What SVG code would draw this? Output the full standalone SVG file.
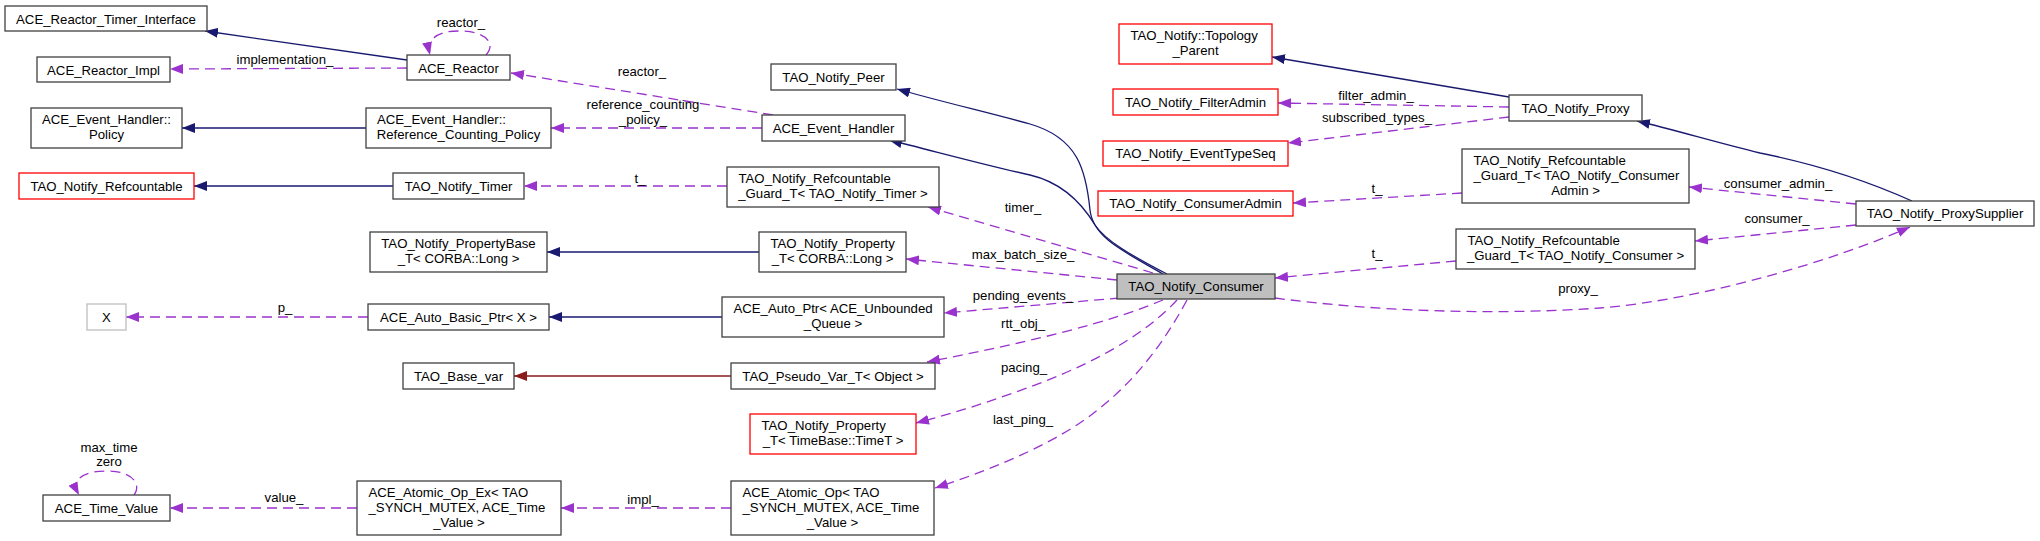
<svg xmlns="http://www.w3.org/2000/svg" width="2040" height="541" viewBox="0 0 2040 541">
<style>
text{font-family:"Liberation Sans",Arial,sans-serif;font-size:13.2px;fill:#000}
.c{text-anchor:middle}
.s{text-anchor:start}
.n rect{fill:#fff;stroke:#404040;stroke-width:1.3}
.n.red rect{stroke:#ff0000}
.n.gry rect{stroke:#bfbfbf}
.n.cur rect{fill:#bfbfbf}
.inh{fill:none;stroke:#191970;stroke-width:1.3;marker-end:url(#aB)}
.tpl{fill:none;stroke:#8b1a1a;stroke-width:1.3;marker-end:url(#aR)}
.use{fill:none;stroke:#9a32cd;stroke-width:1.3;stroke-dasharray:10,6;marker-end:url(#aP)}
</style>
<defs>
<marker id="aB" markerUnits="userSpaceOnUse" markerWidth="13" markerHeight="10" viewBox="0 0 13 10" refX="13" refY="5" orient="auto"><path d="M0,0 L13,5 L0,10 z" fill="#191970"/></marker>
<marker id="aR" markerUnits="userSpaceOnUse" markerWidth="13" markerHeight="10" viewBox="0 0 13 10" refX="13" refY="5" orient="auto"><path d="M0,0 L13,5 L0,10 z" fill="#8b1a1a"/></marker>
<marker id="aP" markerUnits="userSpaceOnUse" markerWidth="13" markerHeight="10" viewBox="0 0 13 10" refX="13" refY="5" orient="auto"><path d="M0,0 L13,5 L0,10 z" fill="#9a32cd"/></marker>
</defs>
<rect width="2040" height="541" fill="#fff"/>

<g id="connectors">
<path class="inh" d="M407,60 L205,31"/>
<path class="inh" d="M366,128 L182,128"/>
<path class="inh" d="M393,186 L194,186"/>
<path class="inh" d="M759,252 L547,252"/>
<path class="inh" d="M722,317 L549,317"/>
<path class="inh" d="M1163,274 C1125,252 1093,238 1090,210 C1086,170 1078,138 1030,124 C990,113 935,100 897,89"/>
<path class="inh" d="M1167,274 C1130,255 1105,240 1095,225 C1080,200 1060,182 1030,175 C985,165 930,150 889,140"/>
<path class="inh" d="M1912,201 C1870,182 1820,165 1760,153 C1715,142 1675,130 1637,121"/>
<path class="inh" d="M1509,97 L1272,57"/>
<path class="tpl" d="M731,376 L514,376"/>

<path class="use" d="M407,68 L170,69"/>
<path class="use" d="M486,55 C497,43 485,31 459,31 C438,31 426,38 430,55"/>
<path class="use" d="M773,115 L511,73"/>
<path class="use" d="M762,128 L551,128"/>
<path class="use" d="M727,186 L524,186"/>
<path class="use" d="M368,317 L126,317"/>
<path class="use" d="M357,508 L170,508"/>
<path class="use" d="M134,495 C142,484 132,471 107,471 C85,471 70,478 79,495"/>
<path class="use" d="M731,508 L561,508"/>
<path class="use" d="M1153,273 L928,207"/>
<path class="use" d="M1117,280 L906,259"/>
<path class="use" d="M1120,298 L944,313"/>
<path class="use" d="M1163,300 C1110,322 1040,340 927,362"/>
<path class="use" d="M1177,300 C1140,340 1080,370 1013,393 C980,405 950,414 916,423"/>
<path class="use" d="M1187,300 C1160,350 1130,385 1095,412 C1060,440 1000,467 935,488"/>
<path class="use" d="M1509,107 L1278,103"/>
<path class="use" d="M1509,117 L1288,143"/>
<path class="use" d="M1462,193 L1293,203"/>
<path class="use" d="M1456,261 L1275,278"/>
<path class="use" d="M1275,298 C1380,312 1500,315 1600,308 C1700,300 1830,262 1910,227"/>
<path class="use" d="M1856,204 L1689,187"/>
<path class="use" d="M1856,225 L1695,241"/>

<text class="c" x="285" y="64">implementation_</text>
<text class="c" x="461" y="27">reactor_</text>
<text class="c" x="642" y="76">reactor_</text>
<text class="c" x="643" y="109">reference_counting</text>
<text class="c" x="643" y="124">_policy_</text>
<text class="c" x="640" y="183">t_</text>
<text class="c" x="285" y="312">p_</text>
<text class="c" x="284" y="502">value_</text>
<text class="c" x="109" y="452">max_time</text>
<text class="c" x="109" y="466">zero</text>
<text class="c" x="643" y="504">impl_</text>
<text class="c" x="1023" y="212">timer_</text>
<text class="c" x="1023" y="259">max_batch_size_</text>
<text class="c" x="1023" y="300">pending_events_</text>
<text class="c" x="1023" y="328">rtt_obj_</text>
<text class="c" x="1024" y="372">pacing_</text>
<text class="c" x="1023" y="424">last_ping_</text>
<text class="c" x="1376" y="100">filter_admin_</text>
<text class="c" x="1377" y="122">subscribed_types_</text>
<text class="c" x="1377" y="193">t_</text>
<text class="c" x="1377" y="258">t_</text>
<text class="c" x="1578" y="293">proxy_</text>
<text class="c" x="1778" y="188">consumer_admin_</text>
<text class="c" x="1777" y="223">consumer_</text>
</g>

<g id="n_timer_iface" class="n"><rect x="5" y="6" width="202" height="25"/><text class="c" x="106" y="23.5">ACE_Reactor_Timer_Interface</text></g>
<g id="n_reactor_impl" class="n"><rect x="37" y="57" width="133" height="25"/><text class="c" x="103.5" y="74.5">ACE_Reactor_Impl</text></g>
<g id="n_eh_policy" class="n"><rect x="31" y="108" width="151" height="40"/><text class="c" x="106.5" y="124">ACE_Event_Handler::</text><text class="c" x="106.5" y="139">Policy</text></g>
<g id="n_refcountable" class="n red"><rect x="19" y="173" width="175" height="26"/><text class="c" x="106.5" y="190.5">TAO_Notify_Refcountable</text></g>
<g id="n_x" class="n gry"><rect x="87" y="304" width="39" height="26"/><text class="c" x="106.5" y="321.5">X</text></g>
<g id="n_time_value" class="n"><rect x="43" y="495" width="127" height="26"/><text class="c" x="106.5" y="512.5">ACE_Time_Value</text></g>

<g id="n_reactor" class="n"><rect x="407" y="55" width="103" height="25"/><text class="c" x="458.5" y="72.5">ACE_Reactor</text></g>
<g id="n_rc_policy" class="n"><rect x="366" y="108" width="185" height="40"/><text class="s" x="377" y="124">ACE_Event_Handler::</text><text class="c" x="458.5" y="139">Reference_Counting_Policy</text></g>
<g id="n_notify_timer" class="n"><rect x="393" y="173" width="131" height="26"/><text class="c" x="458.5" y="190.5">TAO_Notify_Timer</text></g>
<g id="n_propbase" class="n"><rect x="370" y="232" width="177" height="40"/><text class="c" x="458.5" y="248">TAO_Notify_PropertyBase</text><text class="c" x="458.5" y="263">_T&lt; CORBA::Long &gt;</text></g>
<g id="n_auto_basic" class="n"><rect x="368" y="304" width="181" height="26"/><text class="c" x="458.5" y="321.5">ACE_Auto_Basic_Ptr&lt; X &gt;</text></g>
<g id="n_base_var" class="n"><rect x="403" y="363" width="111" height="26"/><text class="c" x="458.5" y="380.5">TAO_Base_var</text></g>
<g id="n_atomic_ex" class="n"><rect x="357" y="481" width="204" height="54"/><text class="s" x="368.5" y="497">ACE_Atomic_Op_Ex&lt; TAO</text><text class="s" x="368.5" y="512">_SYNCH_MUTEX, ACE_Time</text><text class="c" x="459" y="527">_Value &gt;</text></g>

<g id="n_peer" class="n"><rect x="771" y="64" width="125" height="26"/><text class="c" x="833.5" y="81.5">TAO_Notify_Peer</text></g>
<g id="n_event_handler" class="n"><rect x="762" y="115" width="143" height="26"/><text class="c" x="833.5" y="132.5">ACE_Event_Handler</text></g>
<g id="n_guard_timer" class="n"><rect x="727" y="167" width="212" height="40"/><text class="s" x="738.5" y="183">TAO_Notify_Refcountable</text><text class="c" x="833" y="198">_Guard_T&lt; TAO_Notify_Timer &gt;</text></g>
<g id="n_prop_long" class="n"><rect x="759" y="232" width="147" height="40"/><text class="s" x="770.5" y="248">TAO_Notify_Property</text><text class="c" x="832.5" y="263">_T&lt; CORBA::Long &gt;</text></g>
<g id="n_auto_ptr" class="n"><rect x="722" y="297" width="222" height="40"/><text class="s" x="733.5" y="313">ACE_Auto_Ptr&lt; ACE_Unbounded</text><text class="c" x="833" y="328">_Queue &gt;</text></g>
<g id="n_pseudo_var" class="n"><rect x="731" y="363" width="204" height="26"/><text class="c" x="833" y="380.5">TAO_Pseudo_Var_T&lt; Object &gt;</text></g>
<g id="n_prop_time" class="n red"><rect x="750" y="414" width="166" height="40"/><text class="s" x="761.5" y="430">TAO_Notify_Property</text><text class="c" x="833" y="445">_T&lt; TimeBase::TimeT &gt;</text></g>
<g id="n_atomic" class="n"><rect x="731" y="481" width="203" height="54"/><text class="s" x="742.5" y="497">ACE_Atomic_Op&lt; TAO</text><text class="s" x="742.5" y="512">_SYNCH_MUTEX, ACE_Time</text><text class="c" x="832.5" y="527">_Value &gt;</text></g>

<g id="n_topology" class="n red"><rect x="1119" y="24" width="153" height="40"/><text class="s" x="1130.5" y="40">TAO_Notify::Topology</text><text class="c" x="1195.5" y="55">_Parent</text></g>
<g id="n_filteradmin" class="n red"><rect x="1113" y="89" width="165" height="26"/><text class="c" x="1195.5" y="106.5">TAO_Notify_FilterAdmin</text></g>
<g id="n_eventtypeseq" class="n red"><rect x="1103" y="141" width="185" height="25"/><text class="c" x="1195.5" y="158">TAO_Notify_EventTypeSeq</text></g>
<g id="n_consumeradmin" class="n red"><rect x="1098" y="191" width="195" height="25"/><text class="c" x="1195.5" y="208">TAO_Notify_ConsumerAdmin</text></g>
<g id="n_consumer" class="n cur"><rect x="1117" y="274" width="158" height="25"/><text class="c" x="1196" y="291">TAO_Notify_Consumer</text></g>

<g id="n_proxy" class="n"><rect x="1509" y="95" width="133" height="26"/><text class="c" x="1575.5" y="112.5">TAO_Notify_Proxy</text></g>
<g id="n_guard_cadmin" class="n"><rect x="1462" y="149" width="227" height="54"/><text class="s" x="1473.5" y="165">TAO_Notify_Refcountable</text><text class="s" x="1473.5" y="180">_Guard_T&lt; TAO_Notify_Consumer</text><text class="c" x="1575.5" y="195">Admin &gt;</text></g>
<g id="n_guard_consumer" class="n"><rect x="1456" y="229" width="239" height="40"/><text class="s" x="1467.5" y="245">TAO_Notify_Refcountable</text><text class="c" x="1575.5" y="260">_Guard_T&lt; TAO_Notify_Consumer &gt;</text></g>

<g id="n_proxysupplier" class="n"><rect x="1856" y="201" width="178" height="25"/><text class="c" x="1945" y="218">TAO_Notify_ProxySupplier</text></g>
</svg>
